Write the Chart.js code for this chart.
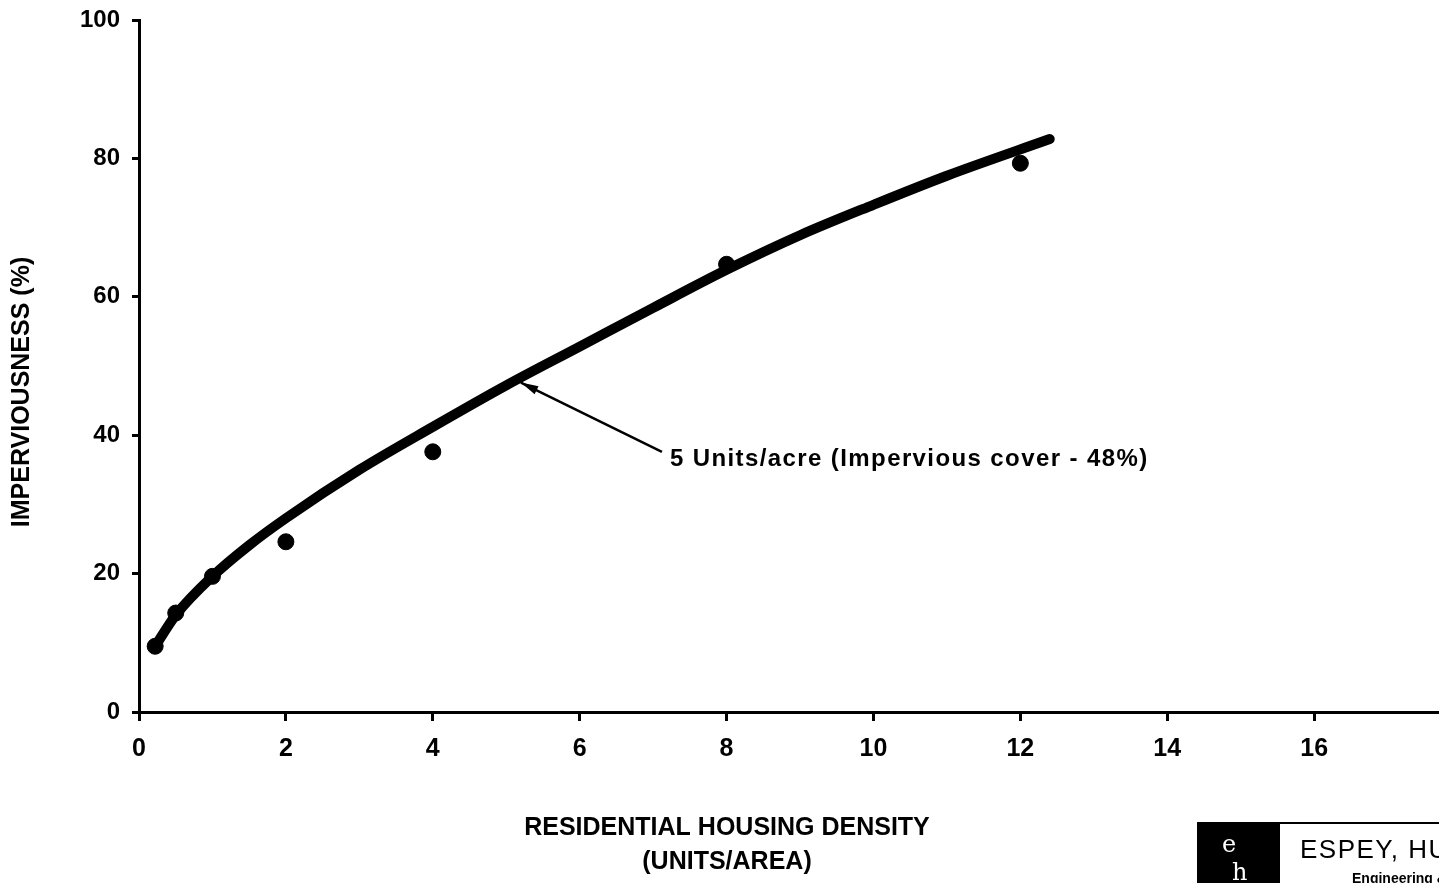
<!DOCTYPE html>
<html>
<head>
<meta charset="utf-8">
<script src="https://cdn.jsdelivr.net/npm/chart.js@4.4.1/dist/chart.umd.min.js"></script>
<style>
  html, body { margin: 0; padding: 0; background: #fff; }
  #wrap { width: 1439px; height: 883px; }
</style>
</head>
<body>
<div id="wrap"><canvas id="imperv" width="1439" height="883"></canvas></div>
<script>
// observed points (density, imperviousness)
const obsDensity = [0.22, 0.5, 1.0, 2.0, 4.0, 8.0, 12.0];
const obsImperv  = [9.5, 14.3, 19.6, 24.6, 37.6, 64.7, 79.3];

// fitted curve
const curveDensity = [0.22, 0.5, 1.0, 1.5, 2.0, 3.0, 4.0, 5.0, 6.0, 7.0, 8.0, 9.0, 10.0, 11.0, 12.4];
const curveImperv  = [9.5, 14.0, 19.6, 24.1, 28.0, 35.0, 41.2, 47.2, 52.8, 58.4, 63.9, 68.9, 73.3, 77.5, 82.8];

const xTicks = [0, 2, 4, 6, 8, 10, 12, 14, 16];
const yTicks = [0, 20, 40, 60, 80, 100];

const noteText = "5 Units/acre (Impervious cover - 48%)";
const noteTip = [5.2, 47.6];
const noteTail = [7.12, 37.6];

const xTitle = ["RESIDENTIAL HOUSING DENSITY", "(UNITS/AREA)"];
const yTitle = "IMPERVIOUSNESS (%)";

const FONT = "'Liberation Sans', Arial, Helvetica, sans-serif";

const extras = {
    id: "extras",
    afterDraw(chart) {
        const ctx = chart.ctx;
        const xs = chart.scales.x, ys = chart.scales.y;
        ctx.save();
        ctx.fillStyle = "#000";
        ctx.strokeStyle = "#000";

        // axis titles
        ctx.font = "bold 25px " + FONT;
        ctx.textAlign = "center";
        ctx.textBaseline = "middle";
        ctx.fillText(xTitle[0], 727, 828);
        ctx.fillText(xTitle[1], 727, 862);

        ctx.save();
        ctx.translate(22, 392);
        ctx.rotate(-Math.PI / 2);
        ctx.font = "bold 25px " + FONT;
        ctx.fillText(yTitle, 0, 0);
        ctx.restore();

        // annotation arrow
        const tx = xs.getPixelForValue(noteTip[0]), ty = ys.getPixelForValue(noteTip[1]);
        const lx = xs.getPixelForValue(noteTail[0]), ly = ys.getPixelForValue(noteTail[1]);
        ctx.lineWidth = 2.5;
        ctx.beginPath();
        ctx.moveTo(lx, ly);
        ctx.lineTo(tx, ty);
        ctx.stroke();
        const ang = Math.atan2(ty - ly, tx - lx);
        ctx.beginPath();
        ctx.moveTo(tx, ty);
        ctx.lineTo(tx - 18 * Math.cos(ang - 0.25), ty - 18 * Math.sin(ang - 0.25));
        ctx.lineTo(tx - 18 * Math.cos(ang + 0.25), ty - 18 * Math.sin(ang + 0.25));
        ctx.closePath();
        ctx.fill();

        ctx.font = "bold 24px " + FONT;
        ctx.letterSpacing = "1.4px";
        ctx.textAlign = "left";
        ctx.fillText(noteText, lx + 8, ly + 8);
        ctx.letterSpacing = "0px";

        // firm logo block, bottom right
        ctx.fillRect(1197, 822, 83, 61);
        ctx.lineWidth = 2;
        ctx.beginPath();
        ctx.moveTo(1280, 823);
        ctx.lineTo(1439, 823);
        ctx.stroke();
        ctx.fillStyle = "#fff";
        ctx.font = "24px 'DejaVu Serif', serif";
        ctx.fillText("e", 1222, 846);
        ctx.fillText("h", 1232, 874);
        ctx.fillStyle = "#000";
        ctx.font = "26px " + FONT;
        ctx.letterSpacing = "1.5px";
        ctx.fillText("ESPEY, HUSTON & ASSOCIATES", 1300, 851);
        ctx.letterSpacing = "0px";
        ctx.font = "bold 14px " + FONT;
        ctx.fillText("Engineering & Environmental", 1352, 879);
        ctx.restore();
    }
};

new Chart(document.getElementById("imperv"), {
    type: "scatter",
    data: {
        datasets: [
            {
                label: "curve",
                data: curveDensity.map((d, i) => ({ x: d, y: curveImperv[i] })),
                showLine: true,
                borderColor: "#000",
                borderWidth: 10,
                borderCapStyle: "round",
                cubicInterpolationMode: "monotone",
                pointRadius: 0
            },
            {
                label: "observed",
                data: obsDensity.map((d, i) => ({ x: d, y: obsImperv[i] })),
                backgroundColor: "#000",
                borderColor: "#000",
                pointRadius: 8,
                pointHoverRadius: 8
            }
        ]
    },
    options: {
        responsive: false,
        animation: false,
        layout: { autoPadding: false, padding: { top: 20, right: 0, left: 0, bottom: 0 } },
        plugins: {
            legend: { display: false },
            tooltip: { enabled: false }
        },
        scales: {
            x: {
                type: "linear",
                min: 0,
                max: 17.7,
                afterBuildTicks: axis => { axis.ticks = xTicks.map(v => ({ value: v })); },
                afterFit: axis => { axis.height = 171; axis.paddingRight = 0; axis.paddingLeft = 0; },
                border: { display: true, color: "#000", width: 3 },
                grid: { display: true, drawOnChartArea: false, color: "#000", lineWidth: 3, tickLength: 9 },
                ticks: {
                    color: "#000",
                    padding: 13,
                    maxRotation: 0,
                    font: { family: FONT, size: 25, weight: "bold" }
                }
            },
            y: {
                type: "linear",
                min: 0,
                max: 100,
                afterBuildTicks: axis => { axis.ticks = yTicks.map(v => ({ value: v })); },
                afterFit: axis => { axis.width = 139; axis.paddingTop = 0; axis.paddingBottom = 0; },
                border: { display: true, color: "#000", width: 3 },
                grid: { display: true, drawOnChartArea: false, color: "#000", lineWidth: 3, tickLength: 7 },
                ticks: {
                    color: "#000",
                    padding: 12,
                    font: { family: FONT, size: 24, weight: "bold" }
                }
            }
        }
    },
    plugins: [extras]
});
</script>
</body>
</html>
